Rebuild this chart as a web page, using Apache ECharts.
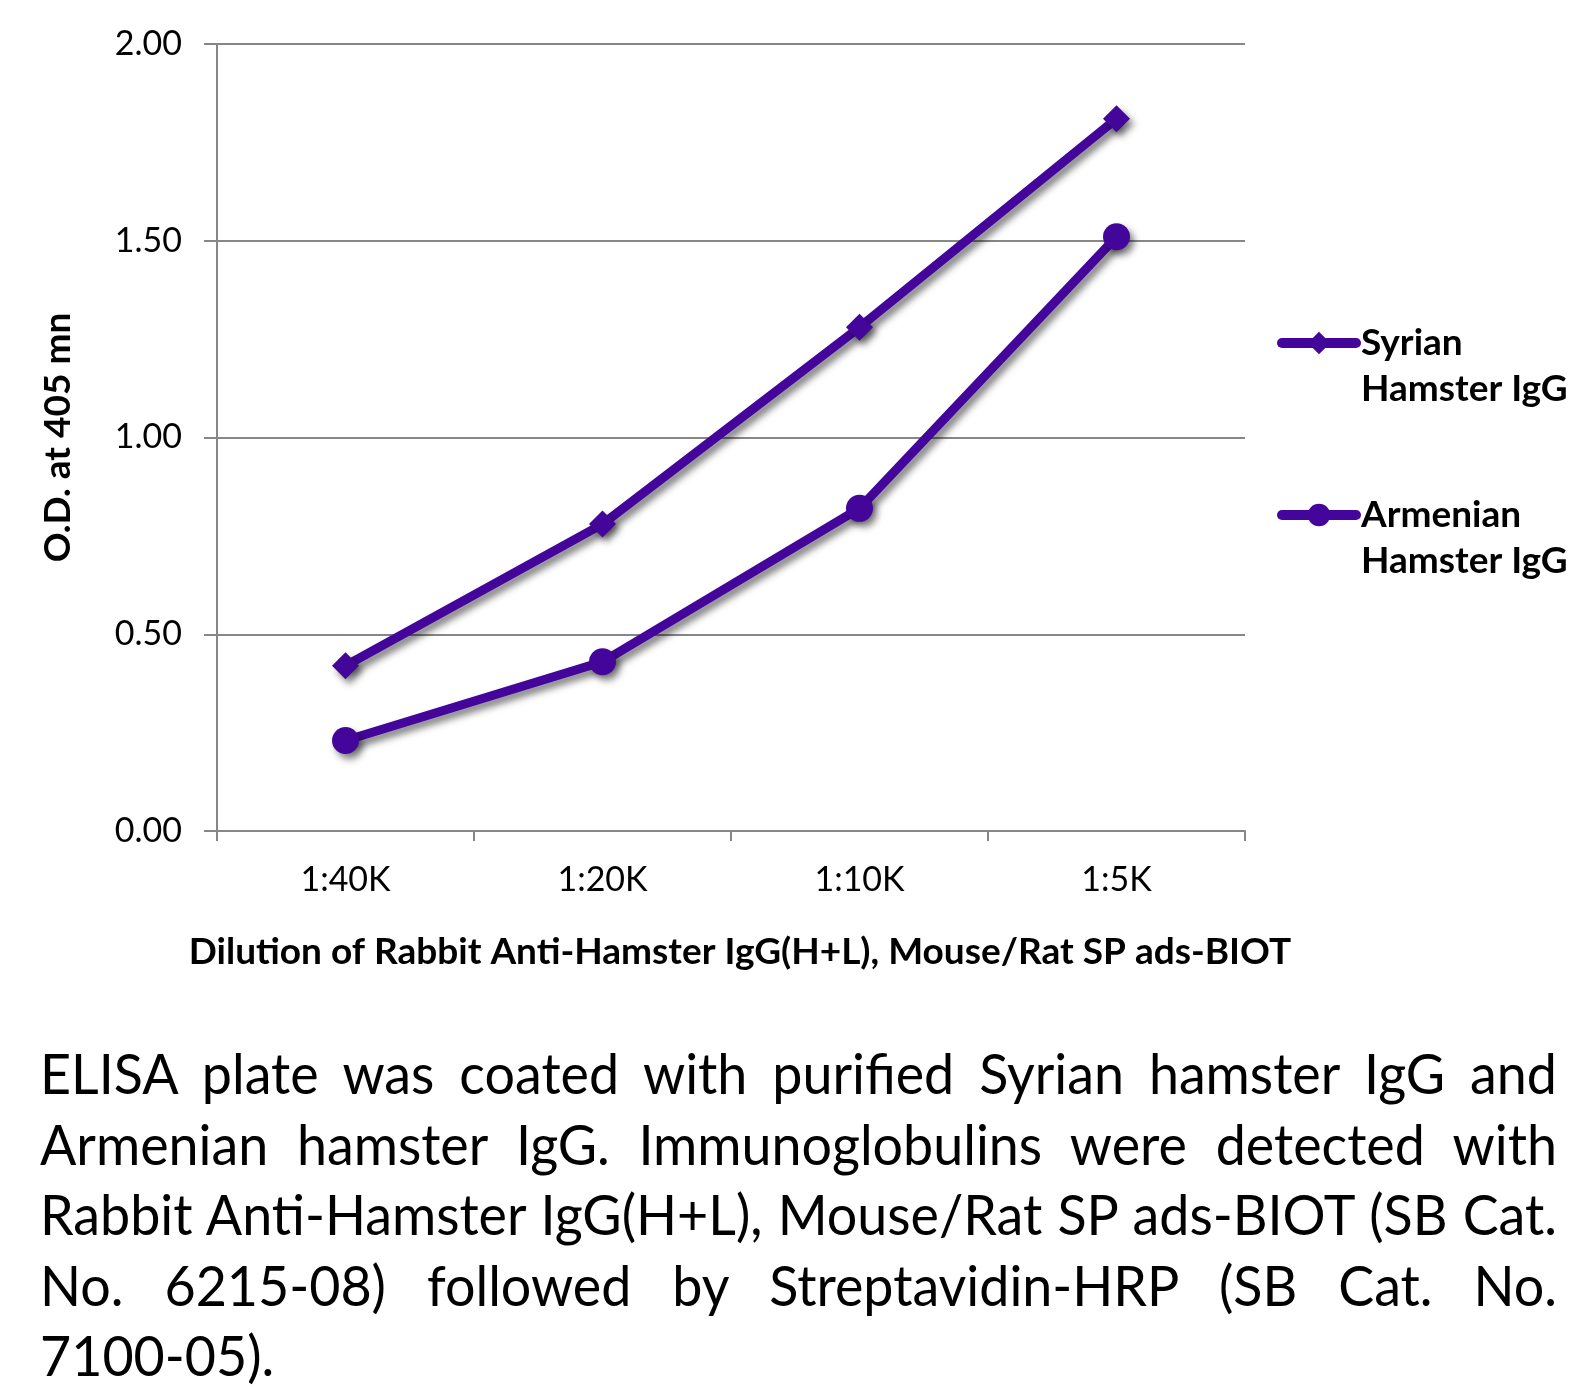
<!DOCTYPE html>
<html>
<head>
<meta charset="utf-8">
<script src="https://cdn.jsdelivr.net/npm/echarts@6/dist/echarts.min.js"></script>
<style>
  html, body { margin: 0; padding: 0; background: #fff; }
  #wrap { position: relative; width: 1590px; height: 1389px; overflow: hidden; }
  #chart { position: absolute; left: 0; top: 0; width: 1590px; height: 1389px; }
  #caption { position: absolute; left: 40px; top: 1038px; width: 1517px; font-family: Lato, "Noto Sans", sans-serif; font-size: 56px; line-height: 70.5px; color: #000; }
  #caption .ln { white-space: nowrap; text-align: justify; text-align-last: justify; transform-origin: 0 0; }
  #caption .ln.last { text-align: left; text-align-last: left; }
</style>
</head>
<body>
<div id="wrap">
  <div id="chart"></div>
  <div id="caption"></div>
</div>
<script>
const categories = ['1:40K', '1:20K', '1:10K', '1:5K'];
const syrianValues = [0.42, 0.78, 1.28, 1.81];
const armenianValues = [0.23, 0.43, 0.82, 1.51];
const seriesNames = ['Syrian Hamster IgG', 'Armenian Hamster IgG'];
const yAxisTitle = 'O.D. at 405 mn';
const xAxisTitle = 'Dilution of Rabbit Anti-Hamster IgG(H+L), Mouse/Rat SP ads-BIOT';
const captionLines = [
  'ELISA plate was coated with purified Syrian hamster IgG and',
  'Armenian hamster IgG.  Immunoglobulins were detected with',
  'Rabbit Anti-Hamster IgG(H+L), Mouse/Rat SP ads-BIOT (SB Cat.',
  'No. 6215-08) followed by Streptavidin-HRP (SB Cat. No.',
  '7100-05).'
];

const PURPLE = '#44069a';
const GRAY = '#878787';
const FONT = 'Lato, "Noto Sans", sans-serif';

const shadow = { shadowColor: 'rgba(0,0,0,0.5)', shadowBlur: 7, shadowOffsetX: 4, shadowOffsetY: 5 };

const chart = echarts.init(document.getElementById('chart'), null, { renderer: 'canvas' });
chart.setOption({
  animation: false,
  textStyle: { fontFamily: FONT },
  grid: { left: 217, right: 345, top: 44, bottom: 558, containLabel: false },
  legend: {
    orient: 'vertical',
    left: 1277,
    top: 274,
    padding: 0,
    itemWidth: 74,
    itemHeight: 28,
    itemGap: 34,
    data: seriesNames,
    formatter: function (n) { return '\n' + n.replace(' Hamster', '\nHamster'); },
    textStyle: { fontFamily: FONT, fontSize: 37, fontWeight: 'bold', color: '#000', lineHeight: 46 },
    lineStyle: { width: 10, cap: 'round', shadowBlur: 0, shadowColor: 'rgba(0,0,0,0)', shadowOffsetX: 0, shadowOffsetY: 0 },
    itemStyle: { shadowBlur: 0, shadowColor: 'rgba(0,0,0,0)', shadowOffsetX: 0, shadowOffsetY: 0 }
  },
  xAxis: {
    type: 'category',
    data: categories,
    boundaryGap: true,
    axisLine: { lineStyle: { color: GRAY, width: 2 } },
    axisTick: { show: true, length: 10, lineStyle: { color: GRAY, width: 2 } },
    axisLabel: { fontFamily: FONT, fontSize: 34, color: '#000', margin: 32 },
    splitLine: { show: false },
    name: xAxisTitle,
    nameLocation: 'middle',
    nameGap: 103,
    nameTextStyle: { fontFamily: FONT, fontSize: 37, fontWeight: 'bold', color: '#000', padding: [0, 0, 0, 18] }
  },
  yAxis: {
    type: 'value',
    min: 0,
    max: 2,
    interval: 0.5,
    axisLine: { show: true, lineStyle: { color: GRAY, width: 2 } },
    axisTick: { show: true, length: 13, lineStyle: { color: GRAY, width: 2 } },
    axisLabel: { fontFamily: FONT, fontSize: 34, color: '#000', margin: 35, formatter: function (v) { return v.toFixed(2); } },
    splitLine: { show: true, lineStyle: { color: GRAY, width: 2 } },
    name: yAxisTitle,
    nameLocation: 'middle',
    nameRotate: 90,
    nameGap: 140,
    nameTextStyle: { fontFamily: FONT, fontSize: 37, fontWeight: 'bold', color: '#000' }
  },
  series: [
    {
      name: seriesNames[0],
      type: 'line',
      data: syrianValues,
      symbol: 'diamond',
      symbolSize: 27,
      lineStyle: Object.assign({ color: PURPLE, width: 9 }, shadow),
      itemStyle: Object.assign({ color: PURPLE }, shadow),
      emphasis: { disabled: true }
    },
    {
      name: seriesNames[1],
      type: 'line',
      data: armenianValues,
      symbol: 'circle',
      symbolSize: 27,
      lineStyle: Object.assign({ color: PURPLE, width: 9 }, shadow),
      itemStyle: Object.assign({ color: PURPLE }, shadow),
      emphasis: { disabled: true }
    }
  ]
});

// Caption: justified lines, condensed to fit the reference width
(function () {
  const cap = document.getElementById('caption');
  const W = 1517;
  const c = document.createElement('canvas').getContext('2d');
  c.font = '56px ' + FONT;
  let maxW = 0;
  captionLines.forEach(function (t) { maxW = Math.max(maxW, c.measureText(t).width); });
  const s = Math.min(1, W / (maxW + 4));
  captionLines.forEach(function (t, i) {
    const d = document.createElement('div');
    d.className = 'ln' + (i === captionLines.length - 1 ? ' last' : '');
    d.textContent = t;
    d.style.width = (W / s) + 'px';
    d.style.transform = 'scaleX(' + s + ')';
    cap.appendChild(d);
  });
})();
</script>
</body>
</html>
